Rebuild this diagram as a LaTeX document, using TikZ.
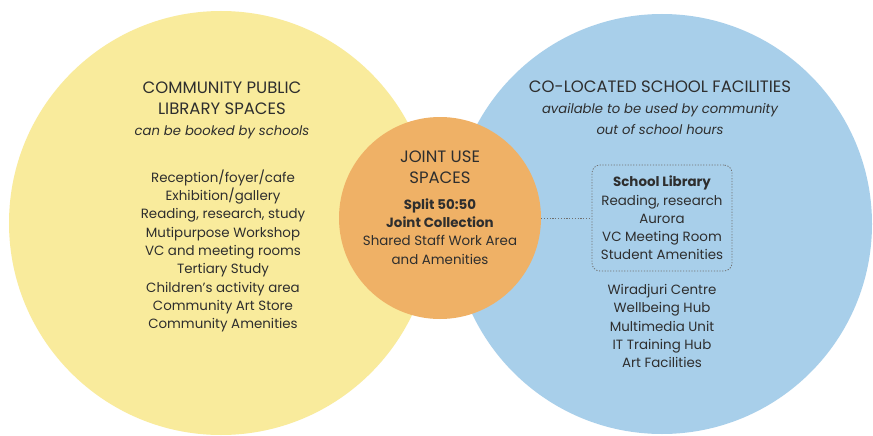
\documentclass[tikz,border=0pt]{standalone}
\usepackage{fontspec}
\setmainfont{Poppins}
\definecolor{yel}{HTML}{F9EB9C}
\definecolor{blu}{HTML}{A8CFEA}
\definecolor{ora}{HTML}{EFB166}
\definecolor{ink}{HTML}{2E2E2E}
\definecolor{dash}{HTML}{707070}
\begin{document}
\begin{tikzpicture}[x=1pt,y=-1pt,
  txt/.style={text=ink, align=center, inner sep=0pt},
  head/.style={txt, font=\fontsize{16.5}{21}\selectfont},
  list/.style={txt, font=\fontsize{13.4}{18.3}\selectfont},
  sub/.style={font=\fontsize{13.2}{18.5}\selectfont\itshape},
  dots/.style={draw=dash, line width=0.8pt, dash pattern=on 1.2pt off 1.6pt}]
\useasboundingbox (0,0) rectangle (873,436);
\fill[white] (0,0) rectangle (873,436);
\node[circle, fill=yel, minimum size=424pt, inner sep=0pt] (lib) at (221,223) {};
\node[circle, fill=blu, minimum size=420pt, inner sep=0pt] (sch) at (662,224) {};
\node[circle, fill=ora, minimum size=202pt, inner sep=0pt] (joint) at (440,218) {};

\node[head] (ltitle) at (222,110) {COMMUNITY PUBLIC\\LIBRARY SPACES\\{\fontsize{13.2}{19}\selectfont\itshape can be booked by schools}};
\node[list] (llist) at (223,251) {Reception/foyer/cafe\\Exhibition/gallery\\Reading, research, study\\Mutipurpose Workshop\\VC and meeting rooms\\Tertiary Study\\Children’s activity area\\Community Art Store\\Community Amenities};

\node[head] (jtitle) at (440,167) {JOINT USE\\SPACES};
\node[list] (jlist) at (440,231.5) {\textbf{Split 50:50}\\\textbf{Joint Collection}\\Shared Staff Work Area\\and Amenities};

\node[head] (rtitle) at (660,108) {CO-LOCATED SCHOOL FACILITIES\\{\fontsize{13.2}{18.5}\selectfont\itshape available to be used by community}\\{\fontsize{13.2}{18.5}\selectfont\itshape out of school hours}};
\node[list, dots, rounded corners=8pt, minimum width=140pt, minimum height=106pt] (box) at (662,218) {\textbf{School Library}\\Reading, research\\Aurora\\VC Meeting Room\\Student Amenities};
\node[list] (rlist) at (662,326) {Wiradjuri Centre\\Wellbeing Hub\\Multimedia Unit\\IT Training Hub\\Art Facilities};

\draw[dots] (joint.east) -- (box.west);
\end{tikzpicture}
\end{document}
